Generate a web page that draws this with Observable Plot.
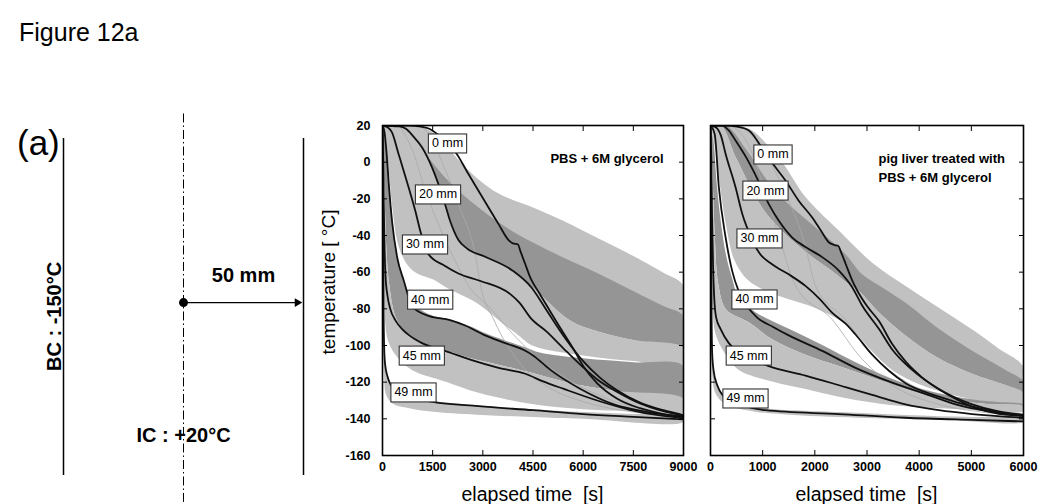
<!DOCTYPE html>
<html><head><meta charset="utf-8">
<script src="https://cdn.jsdelivr.net/npm/d3@7"></script>
<script src="https://cdn.jsdelivr.net/npm/@observablehq/plot@0.6"></script>
<style>
body{margin:0;background:#fff;}
#fig{position:relative;width:1050px;height:504px;overflow:hidden;background:#fff;font-family:Arial,"Liberation Sans",Helvetica,sans-serif;color:#000;}
.abs{position:absolute;white-space:pre;line-height:1;}
.plotbox{position:absolute;}
</style></head><body><div id="fig"></div>
<script>
// ---------------- DATA ----------------
const depthNames = ["0 mm", "20 mm", "30 mm", "40 mm", "45 mm", "49 mm"];
const tempTicks = [20, 0, -20, -40, -60, -80, -100, -120, -140, -160];
const pbsTimeTicks = [0, 1500, 3000, 4500, 6000, 7500, 9000];
const liverTimeTicks = [0, 1000, 2000, 3000, 4000, 5000, 6000];

// PBS + 6M glycerol : [time s, temperature °C]
const pbs0 = [[0,20],[800,20],[1100,19.5],[1400,18.2],[1800,12.7],[2220,4.5],[2570,-6.5],[2870,-15.6],[3170,-24.7],[3470,-33.8],[3770,-42.5],[3900,-44.3],[4050,-44.9],[4120,-48.4],[4270,-55.7],[4420,-63],[4680,-71.2],[4920,-78.5],[5220,-87.6],[5720,-102.2],[6020,-111.7],[6420,-120.6],[7020,-129],[7700,-134.2],[8400,-137.4],[9000,-138.9]];
const pbs20 = [[0,20],[500,19.5],[700,18.2],[900,14.5],[1180,8.1],[1480,-2.8],[1870,-22.9],[2020,-32],[2270,-42.5],[2520,-47],[3070,-51.6],[3870,-58.9],[4460,-68.5],[4920,-81.2],[5420,-94.9],[6000,-108.5],[6500,-117.5],[7000,-124.3],[7700,-131.1],[8400,-135.3],[9000,-137.9]];
const pbs30 = [[0,20],[150,19.1],[280,16.4],[480,4.5],[780,-13.7],[980,-26.5],[1130,-37.5],[1375,-50.2],[1870,-56.6],[2270,-60.7],[2930,-64.8],[3830,-72.1],[4100,-76.7],[4426,-84.9],[4924,-92.7],[5422,-101.8],[5920,-110.6],[6420,-118.5],[7020,-125.3],[7700,-131.6],[8400,-135.8],[9000,-138.4]];
const pbs40 = [[0,20],[60,16.4],[120,5.4],[200,-14.7],[290,-32.9],[440,-52],[640,-64.8],[880,-78.5],[1100,-81.7],[1400,-84],[2020,-86.2],[2470,-89.1],[3070,-94.5],[3670,-98.7],[4270,-102.9],[4500,-105.4],[5020,-113.3],[5920,-123.7],[6920,-132.1],[7900,-136.2],[9000,-138.9]];
const pbs45 = [[0,20],[20,1.8],[40,-25.6],[60,-45.7],[90,-62.1],[150,-73],[230,-79.9],[400,-86.7],[580,-90.9],[800,-94.5],[1180,-98.7],[1870,-102.9],[2670,-108],[3470,-112.2],[4270,-115.4],[4800,-119.6],[5420,-123.7],[6420,-130],[7420,-135.2],[8200,-137.9],[9000,-139.5]];
const pbs49 = [[0,20],[15,-25.6],[30,-75.8],[50,-101.2],[80,-110.6],[150,-116.9],[250,-121.6],[400,-124.8],[700,-127.4],[1000,-129],[1500,-130.8],[2870,-133.1],[4500,-135.3],[6000,-137.4],[7500,-138.9],[9000,-140.3]];
const pbsThinA = [[1000,20],[1400,15.4],[1673,4.6],[2272,-22.9],[2770,-50.2],[2970,-70.3],[3300,-84.9],[3700,-99.1],[4200,-111.7],[5000,-123.2],[6000,-130.6],[7500,-136.3],[9000,-138.9]];
const pbsThinB = [[500,20],[900,6.3],[1300,-16.5],[1800,-39.3],[2300,-58.4],[2571,-67.5],[3168,-78.5],[3866,-93.1],[4515,-104.9],[5500,-118],[6500,-127.4],[7500,-133.7],[9000,-138.4]];
const pbsBandAUpper = [[0,20],[1000,20],[1400,17.3],[1800,11.8],[2200,2.7],[2800,-8.3],[3500,-17.4],[4500,-24.7],[5400,-32],[6400,-41.1],[7400,-50.2],[8400,-60.3],[9000,-67.5]];
const pbsBandBUpper = [[0,20],[600,20],[1200,6.3],[1870,-8.3],[2870,-24.7],[3870,-37.5],[4500,-43.8],[5400,-52],[6400,-60.3],[7400,-69.4],[8400,-78.5],[9000,-84]];
const pbsBandBLower = [[0,20],[600,20],[900,14.5],[1200,7.2],[1480,-2.8],[1870,-22.9],[2270,-42],[2520,-47.2],[3070,-51.8],[3870,-59.1],[4500,-68.5],[5640,-86.7],[6500,-92.6],[7500,-97],[9000,-101.2]];
const pbsBandCLower = [[0,20],[150,1.8],[300,-25.6],[450,-43.8],[700,-54.8],[1000,-60.3],[1500,-63.9],[1970,-69],[2770,-76.3],[3670,-89.1],[4070,-94.5],[4500,-100.1],[6000,-105.4],[7500,-108.5],[9000,-110.6]];
const pbsBandDUpper = [[0,20],[120,6.3],[220,-16.5],[320,-36.5],[450,-52.9],[650,-65.7],[900,-76.7],[1400,-83.1],[2000,-85.8],[2600,-89.4],[3100,-93.5],[3700,-97.5],[4300,-101.2],[4700,-103.8],[6000,-107],[7500,-109.1],[9000,-111.2]];
const pbsBandDLower = [[0,20],[60,-16.5],[120,-48.4],[200,-66.6],[400,-84.9],[700,-93.1],[1200,-99.1],[2000,-103.3],[2640,-107],[3500,-110.6],[4340,-114.3],[5640,-120.6],[7000,-124.8],[9000,-129]];
const pbsBandELower = [[0,20],[30,-43.8],[60,-80.3],[120,-94],[200,-99.1],[378,-104.9],[877,-113.3],[1873,-119.6],[2870,-125.8],[4515,-132.1],[6000,-134.8],[7500,-135.8],[9000,-136.3]];
const pbsBandFUpper = [[0,20],[15,-25.6],[30,-75.8],[50,-101.2],[80,-110.6],[150,-116.9],[250,-121.6],[400,-124.3],[700,-126.9],[1000,-128.5],[1500,-130.3],[2870,-132.7],[4500,-134.8],[6000,-136.3],[7500,-137.4],[9000,-137.9]];
const pbsBandFLower = [[0,20],[10,-34.7],[25,-89.4],[50,-118],[100,-126.4],[300,-131.6],[800,-134.2],[1600,-136.3],[3000,-137.9],[4500,-139],[6000,-140],[9000,-141.6]];
const pbsLabelTime = [1944, 1660, 1271, 1426, 1175, 927];
const pbsLabelTemp = [10.2, -17.6, -44.9, -75, -105.5, -125.6];

// pig liver treated with PBS + 6M glycerol
const liver0 = [[0,20],[300,20],[480,19.5],[735,17.3],[1000,7.2],[1246,-2.8],[1440,-10.1],[1690,-21],[1950,-30.2],[2140,-38.4],[2270,-43.8],[2380,-45.2],[2450,-45.7],[2500,-48.9],[2590,-55.4],[2716,-64.5],[2812,-70],[3000,-78.5],[3230,-86.7],[3480,-99.1],[3750,-109.1],[4060,-117.5],[4400,-124.3],[4760,-130],[5100,-134.2],[5530,-137.3],[6000,-138.3]];
const liver20 = [[0,20],[224,20],[350,17.3],[480,11.8],[700,1.8],[900,-9.2],[1118,-22.9],[1310,-32],[1566,-41.1],[1821,-46.3],[2141,-51.8],[2460,-59.1],[2716,-68.2],[2907,-78.2],[3227,-90.9],[3483,-102.2],[3866,-113.3],[4377,-123.7],[5016,-132.1],[5500,-135.8],[6000,-137.7]];
const liver30 = [[0,20],[100,19.1],[200,14.5],[290,4.5],[480,-13.7],[610,-28.3],[780,-41.1],[930,-49.3],[1180,-55.7],[1500,-61.2],[1820,-67.5],[2100,-74.8],[2330,-82.1],[2590,-88.1],[2780,-94],[3100,-105],[3420,-113.8],[3740,-120.6],[4380,-127.9],[5000,-133.2],[5500,-136.3],[6000,-138.4]];
const liver40 = [[0,20],[80,15.4],[160,-13.7],[290,-41.1],[415,-59.3],[540,-70.3],[700,-78.5],[900,-84.9],[1200,-89.9],[1500,-94.5],[2140,-102.9],[2780,-112.2],[3420,-119.6],[4060,-125.8],[4700,-132.1],[5300,-135.8],[6000,-138.4]];
const liver45 = [[0,20],[15,1.8],[30,-30.2],[50,-57.5],[75,-75.8],[110,-84.9],[192,-90.9],[351,-98.7],[543,-103.9],[800,-107.5],[1118,-111.2],[1821,-116.4],[2588,-122.7],[3099,-126.9],[3738,-132.1],[4377,-135.3],[5016,-137.4],[6000,-139.4]];
const liver49 = [[0,20],[10,-34.7],[20,-80.3],[32,-104.3],[60,-113.8],[128,-121.6],[256,-127.9],[350,-130],[600,-132.7],[1054,-135.3],[2460,-137.4],[3740,-139.4],[5016,-140.6],[6000,-141.4]];
const liverThinA = [[400,20],[700,10.9],[1000,-11.9],[1300,-39.3],[1630,-67.5],[2332,-85.8],[2844,-105.4],[3483,-121.6],[4377,-132.1],[5200,-136.3],[6000,-138.4]];
const liverThinB = [[600,20],[900,10.9],[1200,-2.8],[1500,-21],[1800,-43.8],[2013,-67.5],[2588,-85.8],[3099,-105.4],[3738,-119.6],[4500,-129.5],[5300,-135.3],[6000,-137.9]];
const liverBandAUpper = [[0,20],[500,20],[800,17.3],[1100,9.1],[1400,-1],[1821,-19],[2460,-37.3],[3100,-54.8],[3740,-67.5],[4377,-79.4],[5016,-91.3],[5500,-101.2],[6000,-111.7]];
const liverBandBUpper = [[0,20],[300,20],[700,6.3],[1182,-13.7],[1566,-24.7],[2013,-35.6],[2588,-50.2],[2907,-61.2],[3300,-68.5],[3740,-76.7],[4377,-90.9],[5016,-102.9],[5655,-113.3],[6000,-119.6]];
const liverBandBLower = [[0,20],[200,20],[500,1.8],[990,-24.7],[1374,-37.5],[1885,-50.2],[2332,-59.3],[2652,-66.6],[2844,-70.3],[3227,-81.8],[3738,-94.5],[4377,-107],[5016,-115.4],[5655,-121.6],[6000,-125.8]];
const liverBandCLower = [[0,20],[100,6.3],[200,-16.5],[300,-34.7],[450,-52.9],[700,-63.9],[1000,-69.4],[1500,-74.8],[2000,-79.4],[2500,-86.7],[2800,-94],[3100,-103.3],[3500,-113.8],[4000,-121.1],[4700,-127.4],[5300,-130.6],[6000,-132.1]];
const liverBandDUpper = [[0,20],[60,10.9],[120,-11.9],[200,-32.9],[300,-51.1],[420,-63.9],[550,-74.8],[862,-81.8],[1502,-90.9],[2141,-99.7],[2780,-109.1],[3419,-117.5],[4058,-123.7],[4700,-127.9],[5400,-130.6],[6000,-132.1]];
const liverBandDLower = [[0,20],[40,-7.4],[80,-39.3],[150,-66.6],[300,-80.3],[735,-87.3],[1182,-96.6],[1821,-105],[2460,-111.2],[3099,-117.5],[3738,-123.7],[4400,-129],[5200,-131.6],[6000,-133.2]];
const liverBandELower = [[0,20],[20,-34.7],[40,-80.3],[100,-94],[288,-104.9],[543,-113.3],[1182,-119.6],[1821,-123.7],[2460,-127.9],[3099,-131.1],[3738,-133.2],[4800,-134.8],[6000,-135.8]];
const liverBandFUpper = [[0,20],[10,-34.7],[20,-80.3],[32,-104.3],[60,-112.7],[128,-120.6],[256,-126.9],[600,-131.6],[1054,-134.2],[2460,-136.3],[3740,-137.9],[5016,-139],[6000,-139.5]];
const liverBandFLower = [[0,20],[8,-43.8],[18,-99.1],[40,-118],[100,-126.4],[300,-132.2],[800,-135.8],[1600,-137.9],[3000,-139.5],[4500,-140.6],[6000,-141.6]];
const liverLabelTime = [1198, 1054, 940, 843, 734, 671];
const liverLabelTemp = [4.2, -15.5, -41.6, -74.9, -105.5, -128.9];

// schematic (cylinder cross-section, mm)
const wallPositions = [-50, 50];
const centerAxis = [0];
const radiusMM = 50;

// ---------------- DRAWING ----------------
const FONT = 'Arial, "Liberation Sans", Helvetica, sans-serif';
const LIGHT = "#c1c1c1", DARK = "#959595";
const fig = document.getElementById("fig");
const X = d => d[0], Y = d => d[1];
const polygon = (upper, lower) => upper.concat(lower.slice().reverse());

function place(node, left, top) {
  const div = document.createElement("div");
  div.className = "plotbox";
  div.style.left = left + "px"; div.style.top = top + "px";
  div.appendChild(node); fig.appendChild(div);
}
function addText(txt, left, top, size, opts = {}) {
  const d = document.createElement("div");
  d.className = "abs"; d.textContent = txt;
  d.style.left = left + "px"; d.style.top = top + "px"; d.style.fontSize = size + "px";
  if (opts.bold) d.style.fontWeight = "bold";
  if (opts.transform) d.style.transform = opts.transform;
  fig.appendChild(d);
}

function panel(cfg) {
  const marks = [];
  for (const b of cfg.bands) marks.push(Plot.line(polygon(b.upper, b.lower), {x: X, y: Y, fill: b.fill, stroke: "none", curve: "catmull-rom", clip: true}));
  for (const th of cfg.thin) marks.push(Plot.line(th, {x: X, y: Y, stroke: "#a9a9a9", strokeWidth: 0.8, curve: "monotone-x", clip: true}));
  for (const c of cfg.curves) marks.push(Plot.line(c, {x: X, y: Y, stroke: "#111", strokeWidth: 1.8, curve: "monotone-x", clip: true}));
  const labels = depthNames.map((n, i) => ({name: n, t: cfg.labelTime[i], temp: cfg.labelTemp[i]}));
  marks.push(Plot.text(labels, {x: "t", y: "temp", text: "name", fontSize: 12.5, fontWeight: "normal", fill: "#000"}));
  marks.push(Plot.text(cfg.title, {frameAnchor: cfg.titleAnchor, dx: cfg.titleDx, dy: 24, lineAnchor: "top", lineHeight: 1.45, textAnchor: cfg.titleTextAnchor, fontSize: 13, fontWeight: "bold", fill: "#000"}));
  marks.push(Plot.axisY({anchor: "left", ticks: tempTicks, tickSize: -5, tickPadding: 17, tickFormat: cfg.yLabels ? (d => `${d}`) : (() => ""), fontSize: 12.5, fontWeight: "bold", label: null}));
  marks.push(Plot.axisY({anchor: "right", ticks: tempTicks, tickSize: -5, tickFormat: () => "", label: null}));
  marks.push(Plot.axisX({anchor: "bottom", ticks: cfg.xTicks, tickSize: -5, tickPadding: 12, tickFormat: d => `${d}`, fontSize: 12.5, fontWeight: "bold", label: null}));
  marks.push(Plot.axisX({anchor: "top", ticks: cfg.xTicks, tickSize: -5, tickFormat: () => "", label: null}));
  marks.push(Plot.frame({stroke: "#000", strokeWidth: 1.6}));
  return Plot.plot({
    width: cfg.width, height: 405,
    marginTop: 25, marginBottom: 50, marginLeft: cfg.marginLeft, marginRight: cfg.marginRight,
    x: {domain: cfg.xDomain}, y: {domain: [-160, 20]},
    style: {background: "transparent", fontFamily: FONT, color: "#000", overflow: "visible"},
    marks
  });
}

// schematic
const schematic = Plot.plot({
  width: 330, height: 405, margin: 0,
  x: {domain: [-radiusMM, radiusMM], range: [63, 303], axis: null},
  y: {domain: [0, 1], range: [375, 38], axis: null},
  style: {background: "transparent", fontFamily: FONT, color: "#000", overflow: "visible"},
  marks: [
    Plot.ruleX(wallPositions, {y1: 0, y2: 1, stroke: "#000", strokeWidth: 1.5}),
    Plot.ruleX(centerAxis, {y1: -0.08, y2: 1.074, stroke: "#000", strokeWidth: 1, strokeDasharray: "9,3,1.5,3"}),
    Plot.ruleY([0.513], {x1: 0, x2: radiusMM - 2, stroke: "#000", strokeWidth: 1.4}),
    Plot.dot([0], {x: d => d, y: () => 0.513, r: 4.5, fill: "#000", stroke: "none"}),
    Plot.dot([radiusMM - 2.6], {x: d => d, y: () => 0.513, symbol: "triangle2", rotate: 90, r: 4.2, fill: "#000", stroke: "none"}),
    Plot.text([`${radiusMM} mm`], {x: () => radiusMM / 2, y: () => 0.593, fontSize: 20, fontWeight: "bold", fill: "#000"}),
    Plot.text(["IC : +20°C"], {x: () => 0, y: () => 0.119, fontSize: 20, fontWeight: "bold", fill: "#000"}),
    Plot.text(["BC : -150°C"], {x: () => -53.6, y: () => 0.472, rotate: -90, fontSize: 20, fontWeight: "bold", fill: "#000"})
  ]
});
place(schematic, 0, 100);

const leftPanel = panel({
  width: 390, marginLeft: 82, marginRight: 7, xDomain: [0, 9000], xTicks: pbsTimeTicks, yLabels: true,
  bands: [
    {upper: pbsBandAUpper, lower: pbsBandBLower, fill: LIGHT},
    {upper: pbsBandBUpper, lower: pbsBandBLower, fill: DARK},
    {upper: pbsBandBLower, lower: pbsBandCLower, fill: LIGHT},
    {upper: pbsBandDUpper, lower: pbsBandDLower, fill: DARK},
    {upper: pbsBandDLower, lower: pbsBandELower, fill: LIGHT},
    {upper: pbsBandFUpper, lower: pbsBandFLower, fill: LIGHT}
  ],
  thin: [pbsThinA, pbsThinB],
  curves: [pbs0, pbs20, pbs30, pbs40, pbs45, pbs49],
  labelTime: pbsLabelTime, labelTemp: pbsLabelTemp,
  title: ["PBS + 6M glycerol"], titleAnchor: "top-right", titleDx: -20, titleTextAnchor: "end"
});
place(leftPanel, 300, 100);

const rightPanel = panel({
  width: 350, marginLeft: 10, marginRight: 27, xDomain: [0, 6000], xTicks: liverTimeTicks, yLabels: false,
  bands: [
    {upper: liverBandAUpper, lower: liverBandBLower, fill: LIGHT},
    {upper: liverBandBUpper, lower: liverBandBLower, fill: DARK},
    {upper: liverBandBLower, lower: liverBandCLower, fill: LIGHT},
    {upper: liverBandDUpper, lower: liverBandDLower, fill: DARK},
    {upper: liverBandDLower, lower: liverBandELower, fill: LIGHT},
    {upper: liverBandFUpper, lower: liverBandFLower, fill: LIGHT}
  ],
  thin: [liverThinA, liverThinB],
  curves: [liver0, liver20, liver30, liver40, liver45, liver49],
  labelTime: liverLabelTime, labelTemp: liverLabelTemp,
  title: ["pig liver treated with\nPBS + 6M glycerol"], titleAnchor: "top-left", titleDx: 168, titleTextAnchor: "start"
});
place(rightPanel, 700, 100);

// boxes behind the depth labels
const nameSet = new Set(depthNames);
fig.querySelectorAll("svg text").forEach(t => {
  if (!nameSet.has(t.textContent.trim())) return;
  const b = t.getBBox();
  const r = document.createElementNS("http://www.w3.org/2000/svg", "rect");
  r.setAttribute("x", b.x - 3.5); r.setAttribute("y", b.y - 2.5);
  r.setAttribute("width", b.width + 7); r.setAttribute("height", b.height + 5);
  r.setAttribute("fill", "#fff"); r.setAttribute("stroke", "#333"); r.setAttribute("stroke-width", "1.1");
  const tr = t.getAttribute("transform"); if (tr) r.setAttribute("transform", tr);
  t.parentNode.insertBefore(r, t);
});

// page texts
addText("Figure 12a", 19, 20, 25);
addText("(a)", 17, 125, 35);
addText("temperature [ °C]", 328, 282, 19, {transform: "translate(-50%,-50%) rotate(-90deg)"});
addText("elapsed time  [s]", 532.5, 495, 19.5, {transform: "translate(-50%,-50%)"});
addText("elapsed time  [s]", 866.5, 495, 19.5, {transform: "translate(-50%,-50%)"});
</script>
</body></html>
